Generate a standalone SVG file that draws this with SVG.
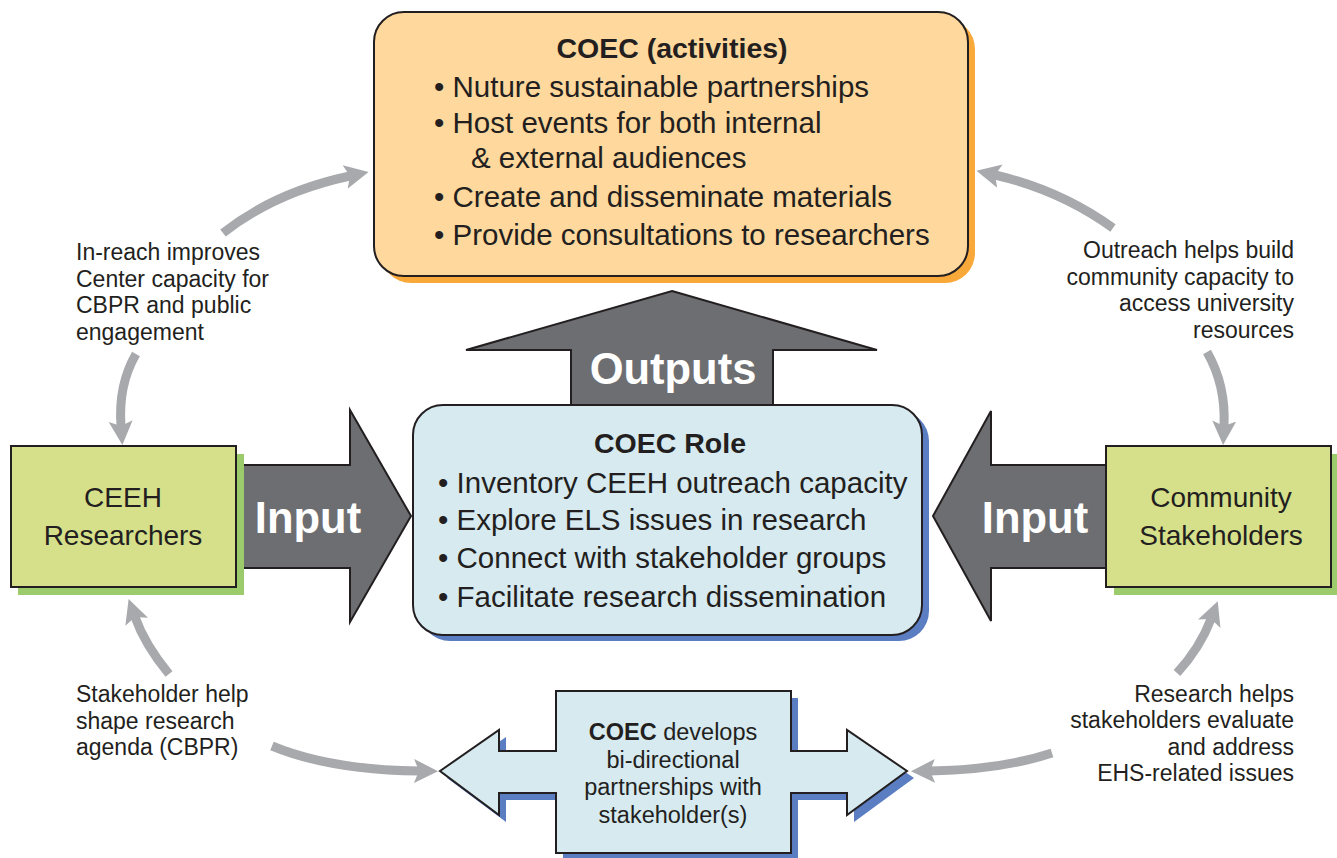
<svg xmlns="http://www.w3.org/2000/svg" width="1337" height="858" viewBox="0 0 1337 858">
<style>
text{font-family:"Liberation Sans",Arial,sans-serif;fill:#231f20}
.t{font-size:29.5px}
.g{font-size:28px}
.ttl{font-size:28.5px;font-weight:bold}
.b{font-weight:bold}
.lbl{font-size:23px}
.mid{font-size:23.5px}
.big{font-size:43.5px;font-weight:bold;fill:#ffffff}
.dark{fill:#6d6e71;stroke:#231f20;stroke-width:2;stroke-linejoin:miter}
.ol{stroke:#231f20;stroke-width:2}
.con{fill:none;stroke:#a7a9ac;stroke-width:9;marker-end:url(#ah)}
</style>
<defs>
<marker id="ah" markerUnits="userSpaceOnUse" markerWidth="26" markerHeight="26" viewBox="0 0 26 26" refX="5" refY="13" orient="auto">
<path d="M0,1 L24,13 L0,25 L5,13 z" fill="#a7a9ac"/>
</marker>
</defs>
<rect width="1337" height="858" fill="#ffffff"/>
<g id="connectors">
<path class="con" d="M223,233 Q275,192 350,176"/>
<path class="con" d="M136,354 Q118,385 121,426"/>
<path class="con" d="M1113,228 Q1060,190 995,175"/>
<path class="con" d="M1207,352 Q1226,385 1224,426"/>
<path class="con" d="M169,674 Q145,645 135,617"/>
<path class="con" d="M272,746 Q330,770 419,771"/>
<path class="con" d="M1177,673 Q1200,648 1211,619"/>
<path class="con" d="M1052,753 Q1000,770 930,771"/>
</g>
<g id="outputs-arrow">
<polygon class="dark" points="672,291 877,350 773,350 773,412 571,412 571,350 466,350"/>
<text class="big" x="673" y="384" text-anchor="middle">Outputs</text>
</g>
<g id="activities">
<rect x="381" y="19" width="594" height="264" rx="30" fill="#f9a83a"/>
<rect x="374" y="12" width="594" height="264" rx="30" fill="#fed89c" class="ol"/>
<text class="ttl" x="672" y="58" text-anchor="middle">COEC (activities)</text>
<text class="t" x="434" y="97">• Nuture sustainable partnerships</text>
<text class="t" x="434" y="133">• Host events for both internal</text>
<text class="t" x="471" y="168">&amp; external audiences</text>
<text class="t" x="434" y="207">• Create and disseminate materials</text>
<text class="t" x="434" y="245">• Provide consultations to researchers</text>
</g>
<g id="input-left">
<polygon class="dark" points="236,465 350,465 350,410 411,516 350,622 350,568 236,568"/>
<text class="big" x="308" y="533" text-anchor="middle">Input</text>
</g>
<g id="input-right">
<polygon class="dark" points="1106,465 991,465 991,411 933,516 991,621 991,568 1106,568"/>
<text class="big" x="1035" y="533" text-anchor="middle">Input</text>
</g>
<g id="role">
<rect x="420" y="411" width="509" height="230" rx="30" fill="#5b7ec2"/>
<rect x="413" y="405" width="509" height="230" rx="30" fill="#d6eaf0" class="ol"/>
<text class="ttl" x="670" y="453" text-anchor="middle">COEC Role</text>
<text class="t" x="438" y="493">• Inventory CEEH outreach capacity</text>
<text class="t" x="438" y="530">• Explore ELS issues in research</text>
<text class="t" x="438" y="568">• Connect with stakeholder groups</text>
<text class="t" x="438" y="607">• Facilitate research dissemination</text>
</g>
<g id="researchers">
<rect x="18" y="454" width="226" height="141" fill="#9bcb6b"/>
<rect x="11" y="446" width="225" height="141" fill="#d6e08b" class="ol"/>
<text class="g" x="123" y="507" text-anchor="middle">CEEH</text>
<text class="g" x="123" y="545" text-anchor="middle">Researchers</text>
</g>
<g id="stakeholders">
<rect x="1114" y="454" width="226" height="141" fill="#9bcb6b"/>
<rect x="1106" y="446" width="225" height="141" fill="#d6e08b" class="ol"/>
<text class="g" x="1221" y="507" text-anchor="middle">Community</text>
<text class="g" x="1221" y="545" text-anchor="middle">Stakeholders</text>
</g>
<g id="partnerships">
<polygon transform="translate(7,7)" fill="#5b7ec2" points="440,771 499,730 499,751 556,751 556,691 791,691 791,751 847,751 847,730 907,771 847,815 847,793 791,793 791,853 556,853 556,793 499,793 499,815"/>
<polygon class="ol" fill="#d6eaf0" points="440,771 499,730 499,751 556,751 556,691 791,691 791,751 847,751 847,730 907,771 847,815 847,793 791,793 791,853 556,853 556,793 499,793 499,815"/>
<text class="mid" x="673" y="740" text-anchor="middle"><tspan class="b">COEC</tspan> develops</text>
<text class="mid" x="673" y="767.5" text-anchor="middle">bi-directional</text>
<text class="mid" x="673" y="795" text-anchor="middle">partnerships with</text>
<text class="mid" x="673" y="823" text-anchor="middle">stakeholder(s)</text>
</g>
<g id="labels">
<text class="lbl" x="76" y="260">In-reach improves</text>
<text class="lbl" x="76" y="286.7">Center capacity for</text>
<text class="lbl" x="76" y="313.3">CBPR and public</text>
<text class="lbl" x="76" y="340">engagement</text>
<text class="lbl" x="1294" y="258" text-anchor="end">Outreach helps build</text>
<text class="lbl" x="1294" y="284.7" text-anchor="end">community capacity to</text>
<text class="lbl" x="1294" y="311.3" text-anchor="end">access university</text>
<text class="lbl" x="1294" y="338" text-anchor="end">resources</text>
<text class="lbl" x="76" y="702">Stakeholder help</text>
<text class="lbl" x="76" y="728.5">shape research</text>
<text class="lbl" x="76" y="755">agenda (CBPR)</text>
<text class="lbl" x="1294" y="702" text-anchor="end">Research helps</text>
<text class="lbl" x="1294" y="728.3" text-anchor="end">stakeholders evaluate</text>
<text class="lbl" x="1294" y="754.7" text-anchor="end">and address</text>
<text class="lbl" x="1294" y="781" text-anchor="end">EHS-related issues</text>
</g>
</svg>
